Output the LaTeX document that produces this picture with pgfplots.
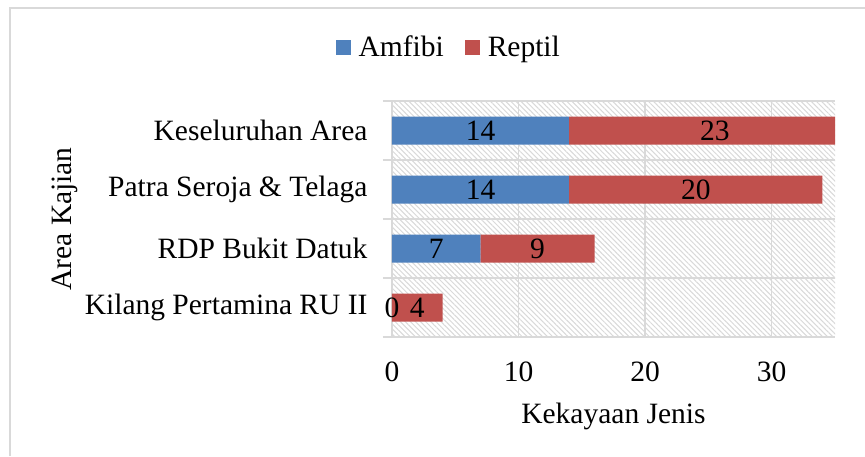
\documentclass[border=0pt]{standalone}
\usepackage{pgfplots}
\pgfplotsset{compat=1.18}
\usepackage{fontspec}
\setmainfont{Liberation Serif}
\usetikzlibrary{patterns.meta}
\definecolor{amf}{HTML}{4F81BD}
\definecolor{rep}{HTML}{C0504D}
\definecolor{gridc}{HTML}{D9D9D9}
\newcommand{\cf}{\fontsize{29.5}{34}\selectfont}
\begin{document}
\begin{tikzpicture}[font=\cf]
\useasboundingbox (0,0) rectangle (865pt,-456pt);
\draw[gridc, line width=2pt] (10pt,-456pt) -- (10pt,-8pt) -- (865pt,-8pt);
\begin{axis}[
  at={(392pt,-337pt)}, anchor=south west,
  scale only axis, width=443pt, height=236pt,
  xmin=0, xmax=35, ymin=-0.5, ymax=3.5,
  xtick={0,10,20,30},
  ytick={0,1,2,3},
  yticklabels={Kilang Pertamina RU II, RDP Bukit Datuk, Patra Seroja \& Telaga, Keseluruhan Area},
  minor ytick={-0.5,0.5,1.5,2.5,3.5},
  yminorgrids=true, xmajorgrids=true,
  grid style={gridc, line width=1.3pt},
  minor grid style={gridc, line width=1.3pt},
  tick align=outside,
  major tick length=0pt,
  minor tick length=9pt,
  minor tick style={gridc, line width=1.3pt},
  axis lines*=left,
  x axis line style={draw=none},
  y axis line style={gridc, line width=1.3pt},
  axis background/.style={fill=white, postaction={pattern={Lines[angle=-45,distance=3.6pt,line width=1pt]}, pattern color=gridc}},
  /pgf/number format/assume math mode=true,
  tick label style={font=\cf},
  xticklabel style={yshift=-21pt},
  yticklabel style={xshift=-21pt},
  label style={font=\cf},
  xlabel={Kekayaan Jenis},
  ylabel={Area Kajian},
  every axis x label/.style={at={(rel axis cs:0.5,0)}, anchor=base, yshift=-86pt},
  every axis y label/.style={at={([xshift=-320pt]rel axis cs:0,0.5)}, rotate=90, anchor=base},
  legend style={at={(rel axis cs:0.128,1.2288)}, anchor=center, draw=none, fill=none, font=\cf, legend columns=2,
    /tikz/every even column/.append style={column sep=19pt}},
  sq/.style={legend image code/.code={\fill[##1] (0pt,-7.5pt) rectangle (15pt,7.5pt); \path (21pt,0pt);}},
  bar width=28pt,
]
\addplot[xbar stacked, sq, fill=amf, draw=none] coordinates {(0,0) (7,1) (14,2) (14,3)};
\addlegendentry{Amfibi}
\addplot[xbar stacked, sq, fill=rep, draw=none] coordinates {(4,0) (9,1) (20,2) (23,3)};
\addlegendentry{Reptil}
\addplot[stack plots=false, draw=none, mark=none, nodes near coords, point meta=explicit symbolic,
  every node near coord/.style={anchor=center, font=\cf, inner sep=0pt}, forget plot]
  table[meta=lab] {
x y lab
0 0 0
2 0 4
3.5 1 7
11.5 1 9
7 2 14
24 2 20
7 3 14
25.5 3 23
};
\end{axis}
\end{tikzpicture}
\end{document}
